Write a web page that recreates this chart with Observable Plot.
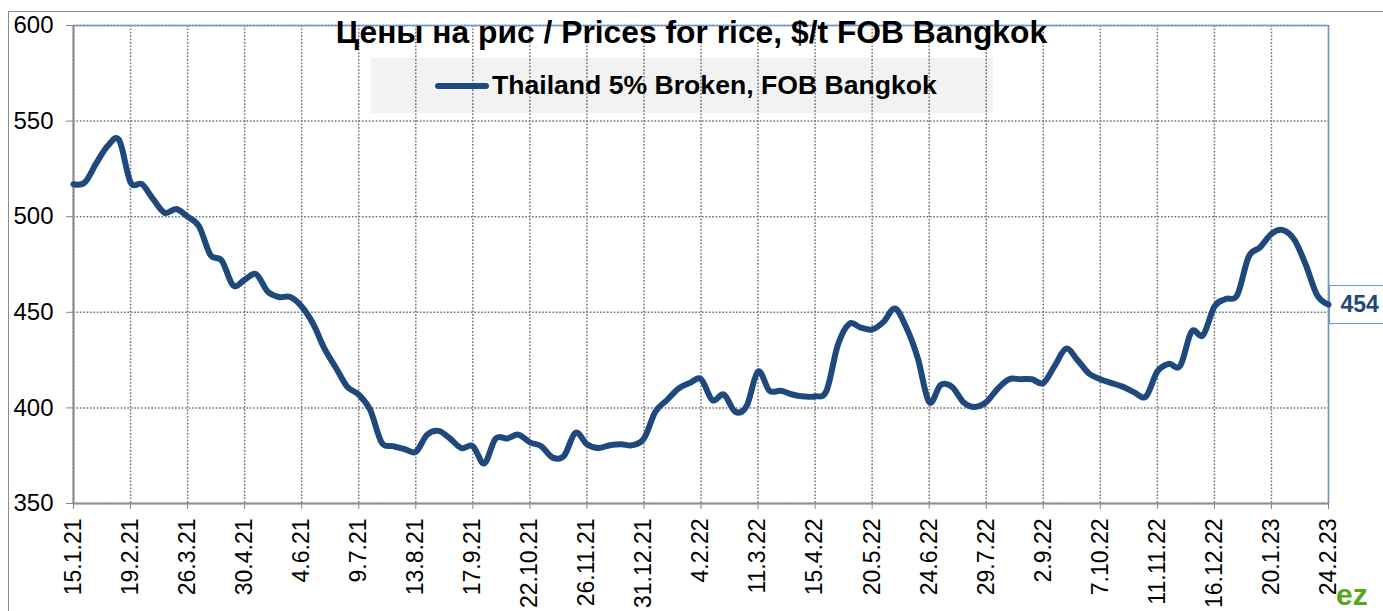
<!DOCTYPE html>
<html>
<head>
<meta charset="utf-8">
<script src="https://cdn.jsdelivr.net/npm/d3@7"></script>
<script src="https://cdn.jsdelivr.net/npm/@observablehq/plot@0.6"></script>
<style>
  html, body { margin: 0; padding: 0; background: #fff; overflow: hidden; }
  body { width: 1383px; height: 611px; position: relative; font-family: "Liberation Sans", Arial, sans-serif; }
  #frame { position: absolute; left: 8px; top: 11px; width: 2000px; height: 2000px; border: 1.5px solid #8c8c8c; }
  #chart { position: absolute; left: 0; top: 0; }
  #title { position: absolute; left: 0; width: 1383px; top: 16px; line-height: 32px; text-align: center; font-weight: bold; font-size: 31.8px; color: #000; white-space: nowrap; }
  #legend { position: absolute; left: 371px; top: 58px; width: 622px; height: 55px; background: rgba(0,0,0,0.05); }
  #legend .swatch { position: absolute; left: 64px; top: 25px; width: 54px; height: 6px; border-radius: 3px; background: #1f497d; }
  #legend .label { position: absolute; left: 121px; top: 12px; font-weight: bold; font-size: 26.6px; color: #000; white-space: nowrap; }
  #endbox { position: absolute; left: 1329px; top: 285px; width: 100px; height: 37px; border: 1.5px solid #6f96cf; background: #fff; }
  #logo { position: absolute; left: 1336px; top: 580px; font-weight: bold; font-size: 30px; color: #5aa51e; line-height: 1; }
</style>
</head>
<body>
<div id="frame"></div>
<div id="endbox"></div>
<div id="chart"></div>
<div id="title">Цены на рис / Prices for rice, $/t FOB Bangkok</div>
<div id="legend"><div class="swatch"></div><div class="label">Thailand 5% Broken, FOB Bangkok</div></div>
<div id="logo">ez</div>
<script>
// Weekly series, first week 15 Jan 2021
const startDate = "2021-01-15";
const prices = [
  517, 518, 528, 537, 540, 518, 517, 509, 502, 504,
  500, 495, 480, 477, 464, 467, 470, 461, 458, 458,
  453, 444, 431, 421, 411, 407, 399, 382, 380, 378.5,
  377, 386, 388, 384, 379, 380, 371, 384, 384, 386,
  382, 380, 374, 375, 387, 381, 379, 380.5, 381, 380.5,
  384, 398, 404, 410, 413, 415, 404, 407, 398, 401,
  419, 409, 409, 407, 406, 406, 409, 433, 444, 442,
  441, 445, 452, 442, 426, 403, 412, 411, 403, 400.5,
  403, 410, 415, 415, 415, 413, 422, 431, 425, 418,
  415, 413, 411, 408, 406, 419, 423, 422, 440, 438,
  453, 457, 459, 479, 484, 491, 493, 488, 475, 459,
  454
];
const tickLabels = ["15.1.21","19.2.21","26.3.21","30.4.21","4.6.21","9.7.21","13.8.21","17.9.21",
  "22.10.21","26.11.21","31.12.21","4.2.22","11.3.22","15.4.22","20.5.22","24.6.22","29.7.22",
  "2.9.22","7.10.22","11.11.22","16.12.22","20.1.23","24.2.23"];
const yTicks = [350, 400, 450, 500, 550, 600];

const parseLabel = s => { const [d, m, y] = s.split(".").map(Number); return new Date(Date.UTC(2000 + y, m - 1, d)); };
const t0 = new Date(startDate + "T00:00:00Z");
const data = prices.map((p, i) => ({date: d3.utcDay.offset(t0, 7 * i), price: p}));
const tickDates = tickLabels.map(parseLabel);
const labelMap = new Map(tickLabels.map((s, i) => [+tickDates[i], s]));
const last = data[data.length - 1];

const font = "'Liberation Sans', Arial, sans-serif";
const chart = Plot.plot({
  width: 1383, height: 611,
  marginLeft: 73, marginRight: 55, marginTop: 25, marginBottom: 108,
  x: {type: "utc", domain: [data[0].date, last.date], label: null},
  y: {domain: [350, 600], label: null},
  style: {fontFamily: font, background: "transparent", color: "#000", overflow: "visible"},
  marks: [
    Plot.gridY(yTicks, {stroke: "#777", strokeOpacity: 1, strokeWidth: 1.5, strokeDasharray: "1.7,1.7"}),
    Plot.gridX(tickDates, {stroke: "#777", strokeOpacity: 1, strokeWidth: 1.5, strokeDasharray: "1.7,1.7"}),
    Plot.axisY(yTicks, {label: null, tickSize: 7, tickPadding: 13, fontSize: 24, stroke: "#868686", fill: "#000", tickFormat: d => String(d)}),
    Plot.axisX(tickDates, {label: null, tickSize: 6, tickPadding: 9, fontSize: 23, tickRotate: -90, stroke: "#868686", fill: "#000", tickFormat: d => labelMap.get(+d)}),
    Plot.ruleX([data[0].date], {stroke: "#868686", strokeWidth: 2}),
    Plot.ruleY([350], {stroke: "#8a9098", strokeWidth: 2}),
    Plot.ruleY([600], {stroke: "#6f96cf", strokeWidth: 1.3}),
    Plot.ruleX([last.date], {stroke: "#6f96cf", strokeWidth: 1.5}),
    Plot.line(data, {x: "date", y: "price", stroke: "#1f497d", strokeWidth: 6, curve: "cardinal", strokeLinejoin: "round", strokeLinecap: "round"}),
    Plot.text([last], {x: "date", y: "price", text: d => String(d.price), dx: 12, textAnchor: "start", fontWeight: "bold", fontSize: 23, fill: "#1f497d"})
  ]
});
document.getElementById("chart").appendChild(chart);
</script>
</body>
</html>
